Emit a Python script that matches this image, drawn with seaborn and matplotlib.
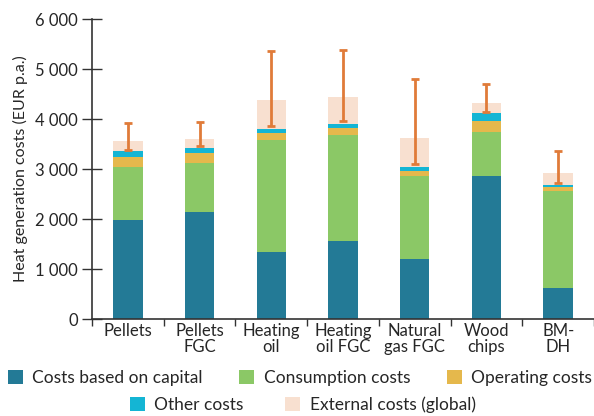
import matplotlib.pyplot as plt
import seaborn as sns
import pandas as pd
import numpy as np
from matplotlib.patches import Patch

categories = ['Pellets', 'Pellets\nFGC', 'Heating\noil', 'Heating\noil FGC',
              'Natural\ngas FGC', 'Wood\nchips', 'BM-\nDH']
capital = [1980, 2140, 1340, 1560, 1200, 2860, 620]
consumption = [1060, 980, 2240, 2120, 1670, 880, 1940]
operating = [200, 200, 140, 140, 90, 220, 80]
other = [120, 100, 80, 80, 80, 160, 40]
external = [200, 180, 580, 540, 580, 200, 240]
err_low = [3380, 3460, 3860, 3960, 3100, 4150, 2720]
err_high = [3920, 3940, 5360, 5380, 4810, 4710, 3370]

y_ticks = [0, 1000, 2000, 3000, 4000, 5000, 6000]
y_tick_labels = ['0', '1 000', '2 000', '3 000', '4 000', '5 000', '6 000']

series = ['Costs based on capital', 'Consumption costs', 'Operating costs',
          'Other costs', 'External costs (global)']
colors = ['#237a96', '#8bc866', '#e5b84c', '#14b5d4', '#f8e0d0']

sns.set_style('ticks')
plt.rcParams['font.family'] = ['Lato', 'DejaVu Sans']

df = pd.DataFrame({'Category': categories, 'capital': capital, 'consumption': consumption,
                   'operating': operating, 'other': other, 'external': external})
layers = ['capital', 'consumption', 'operating', 'other', 'external']
cum = df[layers].cumsum(axis=1)

fig = plt.figure(figsize=(5.94, 4.16), dpi=100)
ax = fig.add_axes([0.155, 0.233, 0.845, 0.721])

# draw cumulative totals from top layer down so the lower ones cover them
for layer, color in reversed(list(zip(layers, colors))):
    sns.barplot(x=df['Category'], y=cum[layer], color=color, width=0.41,
                saturation=1, ax=ax, zorder=2, linewidth=0, edgecolor='none')

x = np.arange(len(categories))
mid = (np.array(err_low) + np.array(err_high)) / 2
half = (np.array(err_high) - np.array(err_low)) / 2
ax.errorbar(x, mid, yerr=half, fmt='none', ecolor='#e07b39', elinewidth=2,
            capsize=3.2, capthick=2, zorder=3)

ax.set_ylim(0, 6000)
ax.set_xlim(-0.5, 6.5)
ax.set_yticks(y_ticks)
ax.set_yticklabels(y_tick_labels, fontsize=12)
ax.set_xticks(np.arange(-0.5, 7, 1), minor=False)
ax.set_xticklabels([])
ax.set_xticks(x, minor=True)
ax.set_xticklabels(categories, minor=True, fontsize=12, linespacing=1.0)
ax.tick_params(axis='x', which='major', direction='out', length=5, width=1, color='#333333')
ax.tick_params(axis='x', which='minor', length=0, pad=3)
ax.tick_params(axis='y', direction='inout', length=14, width=1, color='#333333', pad=3)
ax.set_xlabel('')
ax.set_ylabel('Heat generation costs (EUR p.a.)', fontsize=11.5, labelpad=5)
for s in ['top', 'right']:
    ax.spines[s].set_visible(False)
for s in ['left', 'bottom']:
    ax.spines[s].set_color('#333333')
    ax.spines[s].set_linewidth(1.2)

handles = [Patch(facecolor=c, edgecolor='none') for c in colors]
fig.legend(handles[:3], series[:3], loc='center', bbox_to_anchor=(0.505, 0.092),
           ncol=3, frameon=False, fontsize=12.5, handlelength=0.86, handleheight=0.86,
           columnspacing=2.1, handletextpad=0.55, borderaxespad=0)
fig.legend(handles[3:], series[3:], loc='center', bbox_to_anchor=(0.51, 0.027),
           ncol=2, frameon=False, fontsize=12.5, handlelength=0.86, handleheight=0.86,
           columnspacing=2.4, handletextpad=0.55, borderaxespad=0)

fig.savefig('out.png', dpi=100)
